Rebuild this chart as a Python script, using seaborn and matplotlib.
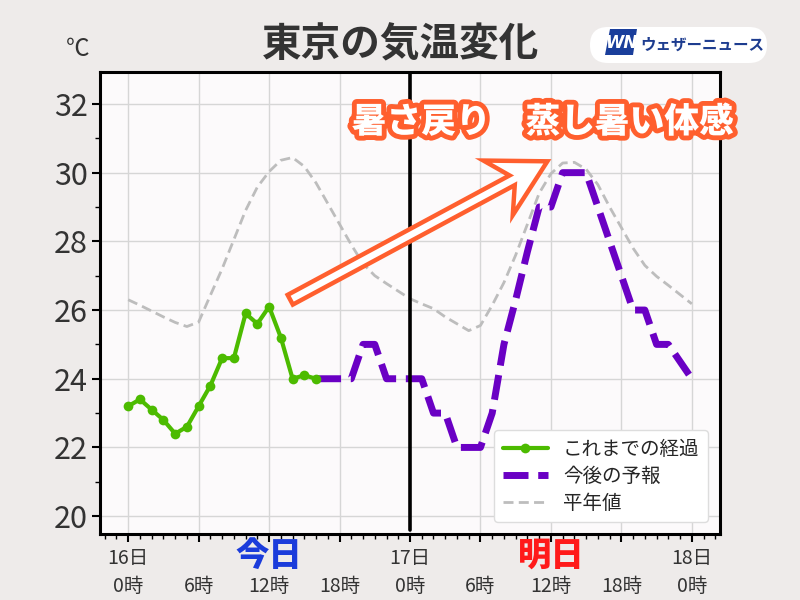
import numpy as np
import matplotlib
matplotlib.use("Agg")
import matplotlib.pyplot as plt
import seaborn as sns
import matplotlib.patheffects as pe
from matplotlib.patches import Polygon, FancyBboxPatch
from matplotlib.transforms import IdentityTransform, blended_transform_factory
from matplotlib.ticker import MultipleLocator

# ---------------- data ----------------
hours_obs = list(range(0, 17))
temp_obs = [23.2, 23.4, 23.1, 22.8, 22.4, 22.6, 23.2, 23.8, 24.6, 24.6,
            25.9, 25.6, 26.1, 25.2, 24.0, 24.1, 24.0]

hours_fc = list(range(16, 49))
temp_fc = [24, 24, 24, 24, 25, 25, 24, 24, 24, 24, 23, 23, 22, 22, 22, 23,
           25, 26.3, 27.7, 29, 29, 30, 30, 30, 29, 28, 27, 26, 26, 25, 25,
           24.5, 24]

hours_normal = list(range(0, 49))
temp_normal = [26.30, 26.14, 25.97, 25.80, 25.64, 25.52, 25.65, 26.43, 27.2,
               28.05, 28.9, 29.58, 30.03, 30.36, 30.44, 30.18, 29.7, 29.1,
               28.5, 27.9, 27.35, 27.0, 26.77, 26.55, 26.33, 26.18, 26.04,
               25.8, 25.6, 25.4, 25.55, 26.14, 26.8, 27.6, 28.5, 29.4, 29.97,
               30.28, 30.3, 30.1, 29.65, 29.0, 28.4, 27.8, 27.3, 26.98, 26.72,
               26.45, 26.18]

xtick_pos = [0, 6, 12, 18, 24, 30, 36, 42, 48]
xtick_labels = ["0時", "6時", "12時", "18時", "0時", "6時", "12時", "18時", "0時"]
day_pos = [0, 24, 48]
day_labels = ["16日", "17日", "18日"]
rel_day_pos = [12, 36]
rel_day_labels = ["今日", "明日"]
rel_day_colors = ['#1b3cdb', '#ff1a1a']
ytick_pos = [20, 22, 24, 26, 28, 30, 32]

legend_labels = ["これまでの経過", "今後の予報", "平年値"]
title = "東京の気温変化"
headline = "暑さ戻り　蒸し暑い体感"

# annotation arrow (data coords)
arrow_tail = (13.8, 26.3)
arrow_tip = (35.7, 30.33)

# ---------------- style ----------------
sns.set_style("white")
plt.rcParams['font.family'] = ['Noto Sans CJK JP', 'DejaVu Sans']
plt.rcParams['axes.unicode_minus'] = False

C_GREEN = '#4cbb00'
C_PURPLE = '#6a00c4'
C_GRAY = '#bdbdbd'
C_ORANGE = '#ff5f2e'
C_TEXT = '#333333'

fig = plt.figure(figsize=(8, 6), dpi=100, facecolor='#eeebea')
ax = fig.add_axes([0.125, 0.11, 0.775, 0.77])
ax.set_facecolor('#fcfafb')

sns.lineplot(x=hours_normal, y=temp_normal, ax=ax, color=C_GRAY, lw=2.0,
             linestyle=(0, (3.6, 1.9)), label=legend_labels[2], zorder=2)
sns.lineplot(x=hours_fc, y=temp_fc, ax=ax, color=C_PURPLE, lw=5,
             linestyle=(0, (3.6, 1.4)), dash_joinstyle='round',
             dash_capstyle='butt', label=legend_labels[1], zorder=3)
sns.lineplot(x=hours_obs, y=temp_obs, ax=ax, color=C_GREEN, lw=3,
             marker='o', markersize=7, markeredgewidth=0,
             label=legend_labels[0], zorder=4)

ax.axvline(24, color='black', lw=2.6, ymin=0.008, zorder=5)

ax.set_xlim(-2.4, 50.4)
ax.set_ylim(19.48, 32.93)
ax.set_xticks(xtick_pos)
ax.set_xticklabels(xtick_labels)
ax.set_yticks(ytick_pos)
ax.xaxis.set_minor_locator(MultipleLocator(1))
ax.yaxis.set_minor_locator(MultipleLocator(1))
ax.set_xlabel("")
ax.set_ylabel("")

ax.tick_params(which='both', bottom=True, left=True, top=False, right=False,
               direction='out', color='black')
ax.tick_params(which='major', length=6, width=1.5, labelcolor=C_TEXT)
ax.tick_params(which='minor', length=3.5, width=1.0)
ax.tick_params(axis='y', which='major', labelsize=22, pad=3)
ax.tick_params(axis='x', which='major', labelsize=14, pad=24.5)

ax.grid(True, which='major', color='#d6d6d6', lw=1)
ax.set_axisbelow(True)
for s in ax.spines.values():
    s.set_color('black')
    s.set_linewidth(2.2)

# day labels
btr = blended_transform_factory(ax.transData, ax.transAxes)
for p, lab in zip(day_pos, day_labels):
    ax.text(p, -0.054, lab, transform=btr, ha='center', va='center',
            fontsize=14, color=C_TEXT, clip_on=False)
for p, lab, c in zip(rel_day_pos, rel_day_labels, rel_day_colors):
    ax.text(p, -0.046, lab, transform=btr, ha='center', va='center',
            fontsize=24, fontweight='heavy', color=c, clip_on=False)

# legend
handles, labels = ax.get_legend_handles_labels()
hmap = dict(zip(labels, handles))
leg = ax.legend([hmap[l] for l in legend_labels], legend_labels,
                loc='lower right', fontsize=14, frameon=True,
                facecolor='white', edgecolor='#dddddd', framealpha=1,
                handlelength=2.3, labelspacing=0.3, borderpad=0.45,
                borderaxespad=0.6)
leg.set_zorder(10)

# arrow (hollow, swept-back head) computed in display pixels
fig.canvas.draw()
T = ax.transData.transform(arrow_tail)
P = ax.transData.transform(arrow_tip)
u = (P - T) / np.linalg.norm(P - T)
n = np.array([-u[1], u[0]])
hw, neck, back, bw = 5.5, 40, 56, 31
verts = [T + n * hw, P - u * neck + n * hw, P - u * back + n * bw, P,
         P - u * back - n * bw, P - u * neck - n * hw, T - n * hw]
arrow = Polygon(verts, closed=True, fc='white', ec=C_ORANGE, lw=3.2,
                joinstyle='miter', transform=IdentityTransform(), zorder=6)
fig.add_artist(arrow)

# headline text
fig.text(543 / 800, 1 - 122 / 600, headline, ha='center', va='center',
         fontsize=25, fontweight='heavy', color='white', zorder=7,
         path_effects=[pe.withStroke(linewidth=7, foreground=C_ORANGE)])

# title and unit
fig.text(401 / 800, 1 - 45 / 600, title, ha='center', va='center',
         fontsize=28.5, fontweight='bold', color=C_TEXT)
fig.text(78 / 800, 1 - 50 / 600, "℃", ha='center', va='center',
         fontsize=17, color=C_TEXT)

# logo
pill = FancyBboxPatch((590, 600 - 63), 177, 36,
                      boxstyle='round,pad=0,rounding_size=18',
                      fc='white', ec='none', transform=IdentityTransform())
fig.add_artist(pill)
wn = Polygon([(610, 571), (637, 571), (633, 545), (605, 545)], closed=True,
             fc='#1a3e9b', ec='none', transform=IdentityTransform(), zorder=2)
fig.add_artist(wn)
fig.text(621 / 800, 557 / 600, "WN", ha='center', va='center', fontsize=12,
         fontweight='bold', fontstyle='italic', color='white',
         family='DejaVu Sans', zorder=3)
fig.text(640 / 800, 1 - 45 / 600, "ウェザーニュース", ha='left', va='center',
         fontsize=11.2, fontweight='bold', color='#1d3c8f', zorder=3)

fig.savefig('out.png', dpi=100, facecolor=fig.get_facecolor())
